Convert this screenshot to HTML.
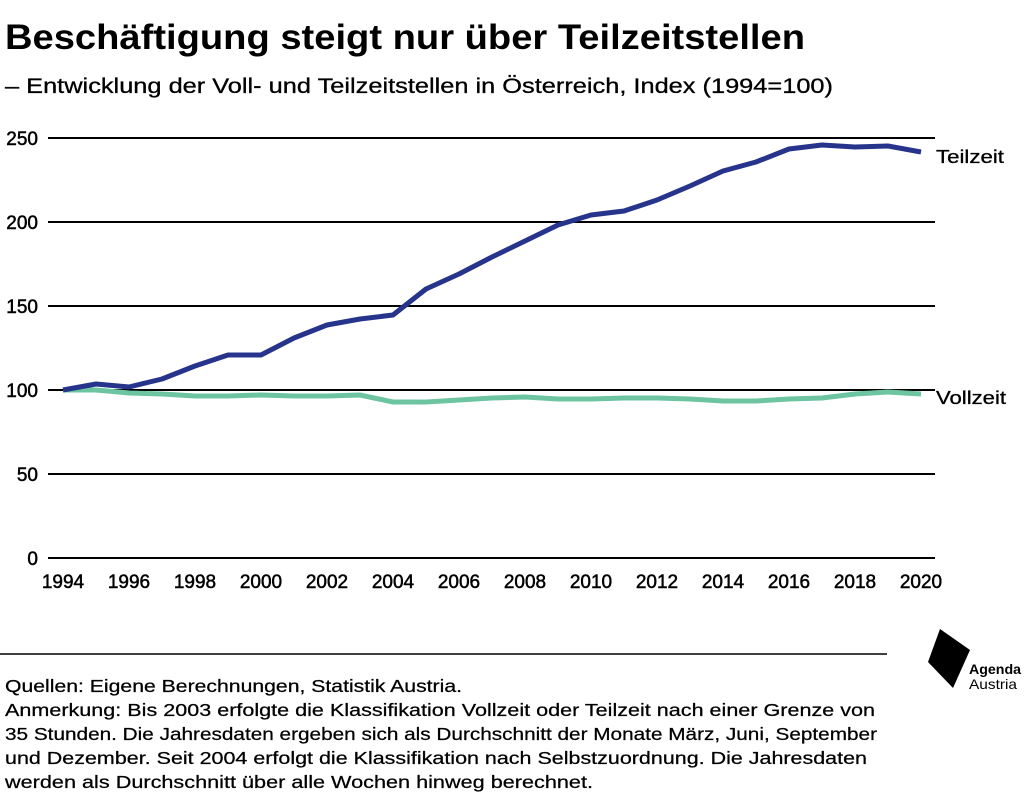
<!DOCTYPE html>
<html><head><meta charset="utf-8"><style>
body{margin:0;background:#fff;width:1024px;height:795px;overflow:hidden;font-family:"Liberation Sans",sans-serif;}
</style></head><body>
<svg width="1024" height="795" xmlns="http://www.w3.org/2000/svg" font-family="Liberation Sans, sans-serif">
<text x="5" y="49" font-size="35" font-weight="bold" fill="#000" textLength="800" lengthAdjust="spacingAndGlyphs">Beschäftigung steigt nur über Teilzeitstellen</text>
<text x="5" y="93" font-size="21" fill="#000" stroke="#000" stroke-width="0.3" textLength="828" lengthAdjust="spacingAndGlyphs">– Entwicklung der Voll- und Teilzeitstellen in Österreich, Index (1994=100)</text>
<g stroke="#000" stroke-width="2">
<line x1="48" y1="138" x2="935" y2="138"/><line x1="48" y1="222" x2="935" y2="222"/>
<line x1="48" y1="306" x2="935" y2="306"/><line x1="48" y1="390" x2="935" y2="390"/>
<line x1="48" y1="474" x2="935" y2="474"/><line x1="48" y1="558" x2="935" y2="558"/>
</g>
<g font-size="19" text-anchor="end" fill="#000" stroke="#000" stroke-width="0.5">
<text x="38" y="145">250</text><text x="38" y="229">200</text><text x="38" y="313">150</text>
<text x="38" y="397">100</text><text x="38" y="481">50</text><text x="38" y="565">0</text>
</g>
<g font-size="19" text-anchor="middle" fill="#000" stroke="#000" stroke-width="0.5">
<text x="63" y="588">1994</text><text x="129" y="588">1996</text><text x="195" y="588">1998</text><text x="261" y="588">2000</text><text x="327" y="588">2002</text><text x="393" y="588">2004</text><text x="459" y="588">2006</text><text x="525" y="588">2008</text><text x="591" y="588">2010</text><text x="657" y="588">2012</text><text x="723" y="588">2014</text><text x="789" y="588">2016</text><text x="855" y="588">2018</text><text x="921" y="588">2020</text>
</g>
<polyline fill="none" stroke="#6cc4a1" stroke-width="5" stroke-linejoin="round" points="63,390 96,390 129,393 162,394 195,396 228,396 261,395 294,396 327,396 360,395 393,402 426,402 459,400 492,398 525,397 558,399 591,399 624,398 657,398 690,399 723,401 756,401 789,399 822,398 855,394 888,392 921,394"/>
<polyline fill="none" stroke="#27348b" stroke-width="5" stroke-linejoin="round" points="63,390 96,384 129,387 162,379 195,366 228,355 261,355 294,338 327,325 360,319 393,315 426,289 459,274 492,257 525,241 558,225 591,215 624,211 657,200 690,186 723,171 756,162 789,149 822,145 855,147 888,146 921,152"/>
<text x="936" y="163" font-size="18" fill="#000" stroke="#000" stroke-width="0.3" textLength="68" lengthAdjust="spacingAndGlyphs">Teilzeit</text>
<text x="936" y="404" font-size="18" fill="#000" stroke="#000" stroke-width="0.3" textLength="70" lengthAdjust="spacingAndGlyphs">Vollzeit</text>
<line x1="0" y1="654" x2="887" y2="654" stroke="#000" stroke-width="1.5"/>
<g font-size="17.5" fill="#000" stroke="#000" stroke-width="0.25" lengthAdjust="spacingAndGlyphs">
<text x="5" y="692" textLength="457" lengthAdjust="spacingAndGlyphs">Quellen: Eigene Berechnungen, Statistik Austria.</text>
<text x="5" y="716" textLength="870" lengthAdjust="spacingAndGlyphs">Anmerkung: Bis 2003 erfolgte die Klassifikation Vollzeit oder Teilzeit nach einer Grenze von</text>
<text x="5" y="740" textLength="872" lengthAdjust="spacingAndGlyphs">35 Stunden. Die Jahresdaten ergeben sich als Durchschnitt der Monate März, Juni, September</text>
<text x="5" y="764" textLength="862" lengthAdjust="spacingAndGlyphs">und Dezember. Seit 2004 erfolgt die Klassifikation nach Selbstzuordnung. Die Jahresdaten</text>
<text x="5" y="788" textLength="588" lengthAdjust="spacingAndGlyphs">werden als Durchschnitt über alle Wochen hinweg berechnet.</text>
</g>
<polygon points="940,629 970,650 953,688 928,662" fill="#000"/>
<text x="969" y="674" font-size="14" font-weight="bold" fill="#000" textLength="52" lengthAdjust="spacingAndGlyphs">Agenda</text>
<text x="969" y="689" font-size="14" fill="#000" textLength="48" lengthAdjust="spacingAndGlyphs">Austria</text>
</svg>
</body></html>
